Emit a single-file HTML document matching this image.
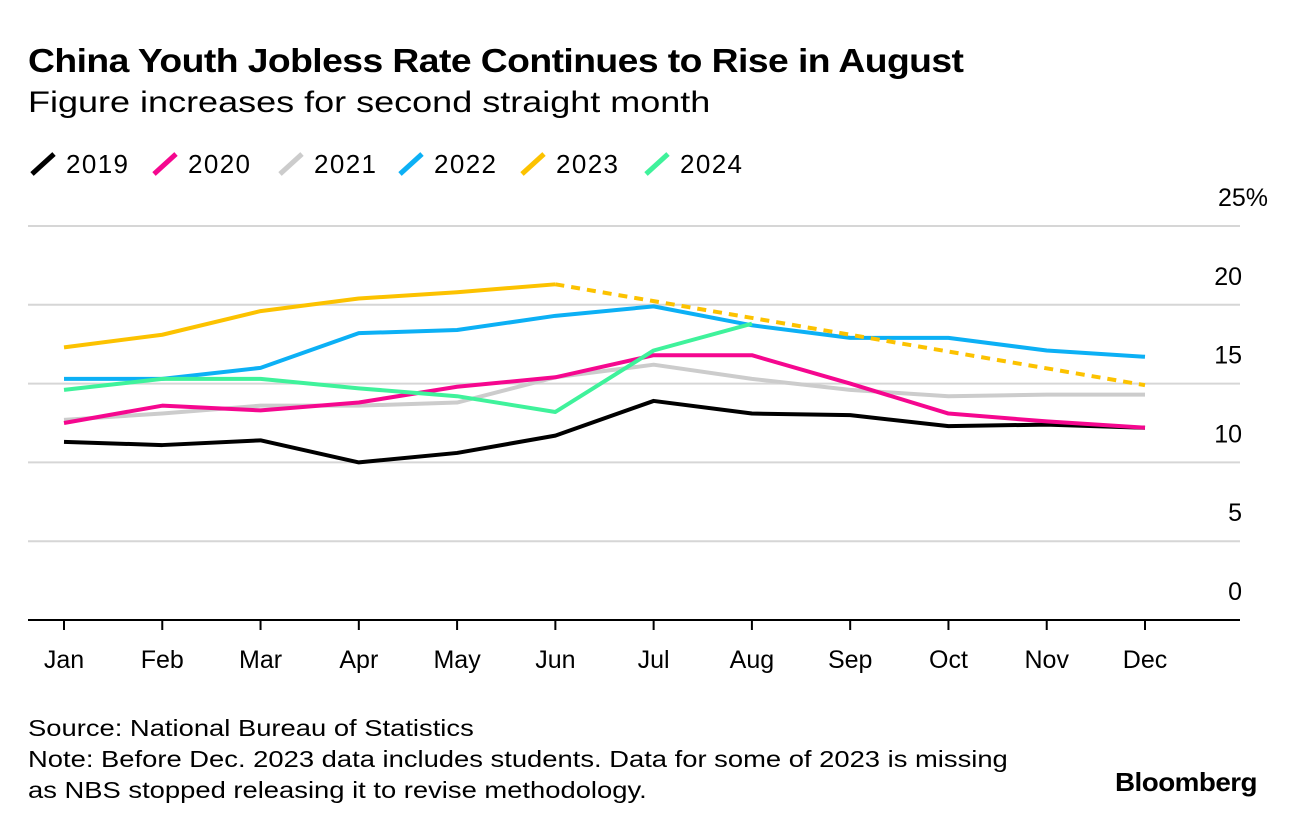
<!DOCTYPE html>
<html><head><meta charset="utf-8"><style>
body{margin:0;width:1296px;height:828px;background:#fff;font-family:"Liberation Sans",sans-serif;color:#000;overflow:hidden;position:relative}
.t{position:absolute;white-space:nowrap;transform-origin:0 0}
</style></head><body>
<div class="t" style="left:28px;top:42px;font-size:33px;font-weight:bold;letter-spacing:-0.5px;transform:scaleX(1.13)">China Youth Jobless Rate Continues to Rise in August</div>
<div class="t" style="left:28px;top:86px;font-size:30px;transform:scaleX(1.2)">Figure increases for second straight month</div>
<svg id="c" width="1296" height="828" style="position:absolute;left:0;top:0"></svg>
<div class="t" style="left:28px;top:713px;font-size:23px;line-height:31px;transform:scaleX(1.19)">Source: National Bureau of Statistics<br>Note: Before Dec. 2023 data includes students. Data for some of 2023 is missing<br>as NBS stopped releasing it to revise methodology.</div>
<div class="t" style="left:1115px;top:767px;font-size:26px;font-weight:bold;letter-spacing:-0.5px;transform:scaleX(1.07)">Bloomberg</div>
<script>
const months=["Jan","Feb","Mar","Apr","May","Jun","Jul","Aug","Sep","Oct","Nov","Dec"];
const yTicks=[0,5,10,15,20,25];
const years=["2019","2020","2021","2022","2023","2024"];
const colors=["#000000","#f5078f","#cccccc","#0cb0f5","#fcc200","#3ff29b"];
const s2019=[11.3,11.1,11.4,10.0,10.6,11.7,13.9,13.1,13.0,12.3,12.4,12.2];
const s2020=[12.5,13.6,13.3,13.8,14.8,15.4,16.8,16.8,15.0,13.1,12.6,12.2];
const s2021=[12.7,13.1,13.6,13.6,13.8,15.4,16.2,15.3,14.6,14.2,14.3,14.3];
const s2022=[15.3,15.3,16.0,18.2,18.4,19.3,19.9,18.7,17.9,17.9,17.1,16.7];
const s2023=[17.3,18.1,19.6,20.4,20.8,21.3,null,null,null,null,null,14.9];
const s2024=[14.6,15.3,15.3,14.7,14.2,13.2,17.1,18.8];
const series=[s2019,s2020,s2021,s2022,s2023,s2024];
const svg=document.getElementById('c');const NS="http://www.w3.org/2000/svg";
function el(t,a){const e=document.createElementNS(NS,t);for(const k in a)e.setAttribute(k,a[k]);svg.appendChild(e);return e;}
const x=i=>64+i*(1145-64)/11;
const y=v=>620-v*(620-226)/25;
yTicks.forEach(v=>{
 const g=el('line',{x1:28,x2:1240,y1:y(v),y2:y(v),stroke:v===0?'#000':'#d6d6d6','stroke-width':2});
 
 const t=el('text',{x:v===25?1268:1242,y:y(v)-20,'text-anchor':'end','font-size':25});
 t.textContent=v===25?'25%':v;
 
});
months.forEach((m,i)=>{
 const l=el('line',{x1:x(i),x2:x(i),y1:620,y2:630,stroke:'#000','stroke-width':2});
 
 const t=el('text',{x:x(i),y:668,'text-anchor':'middle','font-size':25});t.textContent=m;
 
});
const order=[2,0,1,3,5,4];
order.forEach(k=>{
 const s=series[k];let pts=[];
 s.forEach((v,i)=>{if(v!==null){pts.push(x(i)+','+y(v));}});
 if(k===4){
  const solid=[];for(let i=0;i<6;i++)solid.push(x(i)+','+y(s[i]));
  const p=el('polyline',{points:solid.join(' '),fill:'none',stroke:colors[k],'stroke-width':4,'stroke-linejoin':'round'});
  
  const d=el('line',{x1:x(5),y1:y(s[5]),x2:x(11),y2:y(s[11]),stroke:colors[k],'stroke-width':4,'stroke-dasharray':'9 7'});
  
 } else {
  const p=el('polyline',{points:pts.join(' '),fill:'none',stroke:colors[k],'stroke-width':4,'stroke-linejoin':'round'});
  
 }
});
const lx=[28,150,276,396,518,642];
years.forEach((yr,i)=>{
 const l=el('line',{x1:lx[i]+4,y1:174,x2:lx[i]+26,y2:154,stroke:colors[i],'stroke-width':5});
 
 const t=el('text',{x:lx[i]+38,y:173,'font-size':26,'textLength':62});t.textContent=yr;
 
});
</script>
</body></html>
